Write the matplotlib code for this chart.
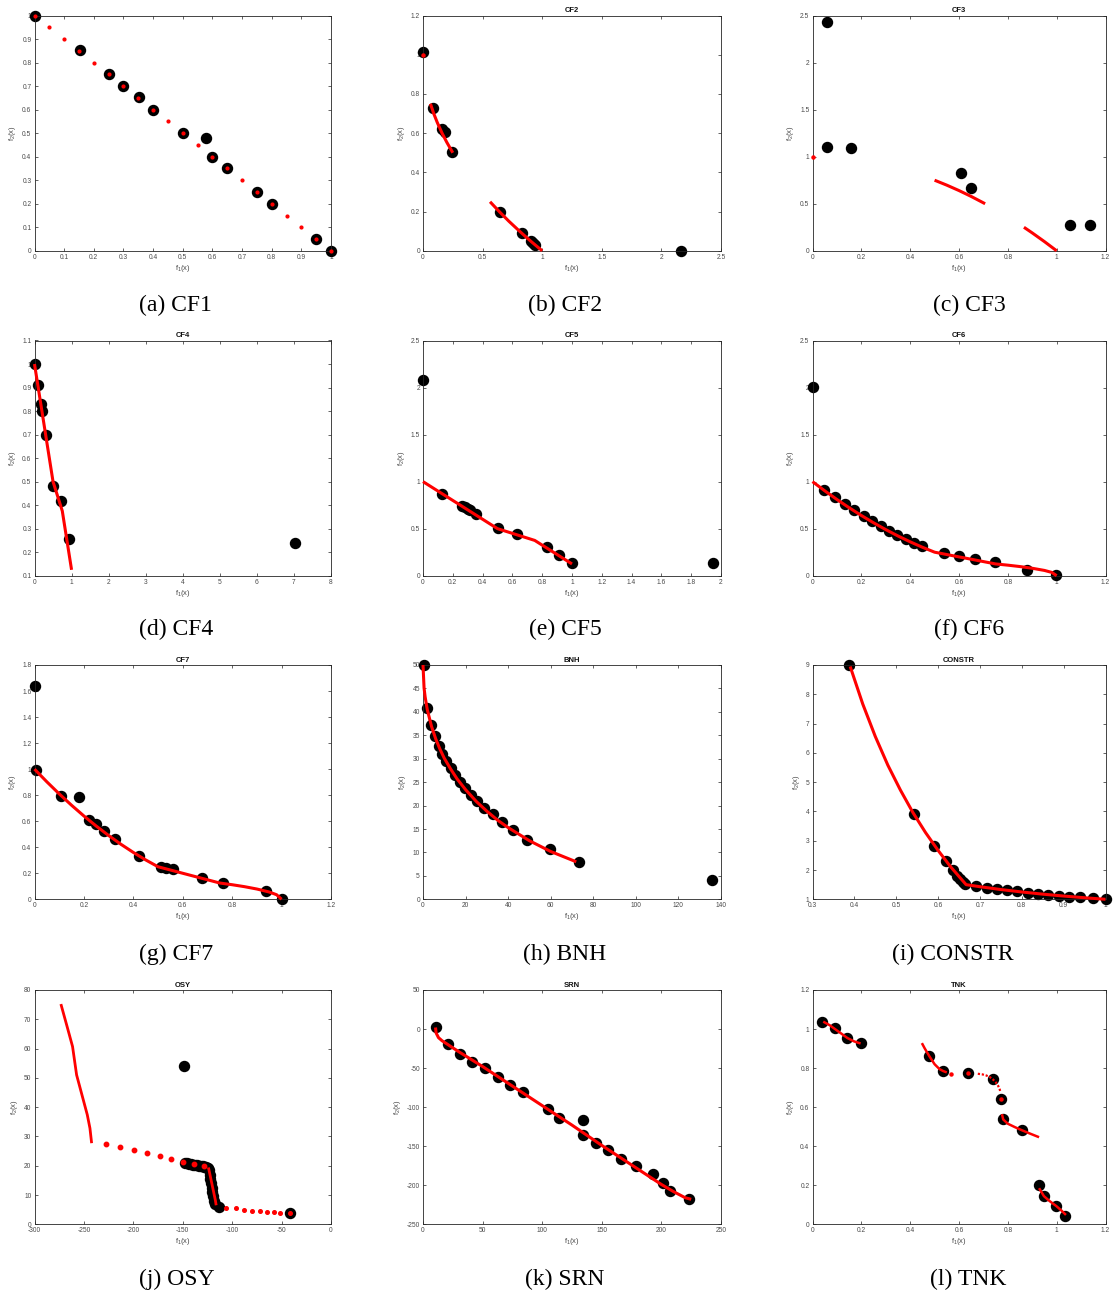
import numpy as np
import matplotlib
matplotlib.use('Agg')
import matplotlib.pyplot as plt
from matplotlib.ticker import FuncFormatter, FixedLocator

plt.rcParams['font.family'] = ['Liberation Sans', 'DejaVu Sans']
plt.rcParams['mathtext.fontset'] = 'custom'
plt.rcParams['mathtext.rm'] = 'Liberation Sans'

# ---------------- DATA ----------------
# CF1
cf1_front_f1 = [0, 0.05, 0.1, 0.15, 0.2, 0.25, 0.3, 0.35, 0.4, 0.45, 0.5, 0.55, 0.6, 0.65, 0.7, 0.75, 0.8, 0.85, 0.9, 0.95, 1.0]
cf1_front_f2 = [1, 0.95, 0.9, 0.85, 0.8, 0.75, 0.7, 0.65, 0.6, 0.55, 0.5, 0.45, 0.4, 0.35, 0.3, 0.25, 0.2, 0.15, 0.1, 0.05, 0]
cf1_sol_f1 = [0, 0.154, 0.25, 0.3, 0.352, 0.4, 0.5, 0.58, 0.6, 0.65, 0.75, 0.8, 0.95, 1.0]
cf1_sol_f2 = [1, 0.852, 0.75, 0.701, 0.652, 0.6, 0.5, 0.479, 0.4, 0.35, 0.25, 0.2, 0.05, 0]

# CF2
cf2_front_a_f1 = [0.0625, 0.09, 0.12, 0.16, 0.2, 0.25]
cf2_front_a_f2 = [0.75, 0.70, 0.654, 0.6, 0.553, 0.5]
cf2_front_b_f1 = [0.5625, 0.64, 0.72, 0.81, 0.9, 1.0]
cf2_front_b_f2 = [0.25, 0.2, 0.151, 0.1, 0.051, 0.0]
cf2_front_pt = [0, 1]
cf2_sol_f1 = [0.004, 0.084, 0.159, 0.182, 0.246, 0.649, 0.833, 0.906, 0.922, 0.938, 2.167]
cf2_sol_f2 = [1.015, 0.73, 0.62, 0.604, 0.506, 0.197, 0.09, 0.051, 0.042, 0.032, 0.0]

# CF3
cf3_front_a_f1 = [0.5, 0.55, 0.6, 0.65, 0.707]
cf3_front_a_f2 = [0.75, 0.6975, 0.64, 0.5775, 0.5]
cf3_front_b_f1 = [0.866, 0.9, 0.95, 1.0]
cf3_front_b_f2 = [0.25, 0.19, 0.0975, 0.0]
cf3_front_pt = [0, 1]
cf3_sol_f1 = [0.061, 0.061, 0.158, 0.607, 0.648, 1.056, 1.135]
cf3_sol_f2 = [2.432, 1.10, 1.09, 0.83, 0.662, 0.27, 0.27]

# CF4
cf4_front_f1 = [0, 0.5, 0.75, 1.0]
cf4_front_f2 = [1, 0.5, 0.375, 0.125]
cf4_sol_f1 = [0, 0.099, 0.171, 0.198, 0.306, 0.512, 0.71, 0.944, 7.02]
cf4_sol_f2 = [1.0, 0.911, 0.83, 0.799, 0.699, 0.48, 0.419, 0.256, 0.239]

# CF5
cf5_front_f1 = [0, 0.5, 0.75, 1.0]
cf5_front_f2 = [1, 0.5, 0.375, 0.125]
cf5_sol_f1 = [0, 0.13, 0.265, 0.283, 0.30, 0.317, 0.353, 0.501, 0.631, 0.834, 0.915, 0.998, 1.946]
cf5_sol_f2 = [2.078, 0.872, 0.742, 0.728, 0.713, 0.70, 0.656, 0.51, 0.447, 0.30, 0.223, 0.138, 0.135]

# CF6
cf6_front_f1 = [0, 0.05, 0.1, 0.15, 0.2, 0.25, 0.3, 0.35, 0.4, 0.45, 0.5, 0.55, 0.6, 0.65, 0.7, 0.75, 0.8, 0.85, 0.9, 0.95, 0.98, 1.0]
cf6_front_f2 = [1, 0.9025, 0.81, 0.7225, 0.64, 0.5625, 0.49, 0.4225, 0.36, 0.3025, 0.25, 0.225, 0.2, 0.175, 0.15, 0.125, 0.112, 0.097, 0.079, 0.056, 0.035, 0.0]
cf6_sol_f1 = [0, 0.046, 0.092, 0.133, 0.172, 0.209, 0.245, 0.279, 0.312, 0.347, 0.381, 0.415, 0.45, 0.537, 0.598, 0.667, 0.747, 0.877, 0.998]
cf6_sol_f2 = [2.01, 0.915, 0.833, 0.759, 0.695, 0.631, 0.578, 0.525, 0.479, 0.429, 0.39, 0.348, 0.312, 0.238, 0.209, 0.174, 0.142, 0.064, 0.011]

# CF7
cf7_front_f1 = [0, 0.05, 0.1, 0.15, 0.2, 0.25, 0.3, 0.35, 0.4, 0.45, 0.5, 0.55, 0.6, 0.65, 0.7, 0.75, 0.8, 0.85, 0.9, 0.95, 0.98, 1.0]
cf7_front_f2 = [1, 0.9025, 0.81, 0.7225, 0.64, 0.5625, 0.49, 0.4225, 0.36, 0.3025, 0.25, 0.225, 0.2, 0.175, 0.15, 0.125, 0.112, 0.097, 0.079, 0.056, 0.035, 0.0]
cf7_sol_f1 = [0.003, 0.007, 0.109, 0.181, 0.22, 0.247, 0.282, 0.325, 0.422, 0.511, 0.534, 0.562, 0.677, 0.763, 0.937, 1.003]
cf7_sol_f2 = [1.638, 0.991, 0.796, 0.789, 0.607, 0.576, 0.522, 0.461, 0.335, 0.248, 0.238, 0.233, 0.164, 0.123, 0.064, 0.005]

# BNH
bnh_front_f1 = [0, 0.5, 1, 2, 4, 6, 8, 10, 13, 16, 20, 25, 30, 35, 40, 50, 60, 72]
bnh_front_f2 = [50, 45.1, 43.2, 40.5, 36.9, 34.2, 32.0, 30.1, 27.8, 25.7, 23.4, 20.9, 18.8, 16.9, 15.3, 12.5, 10.2, 8.0]
bnh_sol_f1 = [0.3, 2.0, 3.9, 5.5, 7.4, 9.1, 11.0, 13.0, 15.2, 17.4, 19.9, 22.4, 25.3, 28.7, 33.0, 37.0, 42.4, 49.0, 59.8, 73.1, 135.8]
bnh_sol_f2 = [50, 40.75, 37.3, 34.85, 32.8, 31.0, 29.5, 27.95, 26.46, 25.1, 23.7, 22.3, 20.9, 19.5, 18.1, 16.4, 14.7, 12.7, 10.67, 7.97, 4.1]

# CONSTR
constr_front_f1 = [0.39, 0.42, 0.45, 0.48, 0.51, 0.54, 0.57, 0.6, 0.63, 0.667, 0.7, 0.75, 0.8, 0.85, 0.9, 0.95, 1.0]
constr_front_f2 = [8.95, 7.67, 6.56, 5.58, 4.73, 3.96, 3.28, 2.67, 2.11, 1.5, 1.43, 1.333, 1.25, 1.176, 1.111, 1.053, 1.0]
constr_sol_f1 = [0.388, 0.542, 0.591, 0.619, 0.635, 0.646, 0.653, 0.659, 0.665, 0.69, 0.716, 0.74, 0.765, 0.789, 0.815, 0.838, 0.862, 0.888, 0.913, 0.94, 0.97, 1.0]
constr_sol_f2 = [9.0, 3.91, 2.83, 2.32, 2.0, 1.80, 1.68, 1.60, 1.52, 1.449, 1.397, 1.351, 1.307, 1.267, 1.227, 1.193, 1.16, 1.126, 1.095, 1.064, 1.031, 1.0]

# OSY
osy_front_a_f1 = [-273.3, -267, -261.5, -257.4, -252, -246.6, -243.9, -242.2]
osy_front_a_f2 = [75.2, 67.5, 60.7, 51.0, 44.2, 37.4, 32.8, 27.7]
osy_front_b_f1 = [-227.7, -213.2, -199.7, -186.1, -173.3, -161.5, -149.7, -138.2, -128]
osy_front_b_f2 = [27.4, 26.4, 25.3, 24.3, 23.4, 22.4, 21.4, 20.6, 19.9]
osy_front_c_f1 = [-124, -123, -122, -121, -120, -119, -118, -117, -116.2]
osy_front_c_f2 = [19.4, 17.8, 16.2, 14.6, 13.0, 11.4, 9.8, 8.2, 6.5]
osy_front_d_f1 = [-106, -96.6, -88.2, -80, -72.3, -64.9, -58.1, -51.4, -41.9]
osy_front_d_f2 = [5.7, 5.4, 5.0, 4.7, 4.4, 4.2, 4.1, 4.0, 4.0]
osy_sol_f1 = [-148.6, -148, -146, -144, -142, -140, -138, -136, -134, -132, -130, -128, -126, -124.2,
              -123.5, -122.8, -122.1, -121.4, -120.7, -120, -119.3, -118.6, -117.8, -113, -41.9]
osy_sol_f2 = [54.0, 21.1, 20.9, 20.7, 20.5, 20.4, 20.2, 20.1, 20.0, 19.9, 19.8, 19.7, 19.5, 19.2,
              18.5, 17.0, 15.5, 14.0, 12.5, 11.0, 9.5, 8.0, 6.8, 5.8, 4.0]

# SRN
srn_front_f1 = [10.5, 11, 13, 16, 20, 25, 30, 50, 75, 100, 125, 150, 175, 200, 210, 215, 220, 225]
srn_front_f2 = [2, -5, -11, -15, -19, -24, -29, -48, -73, -98, -123, -149, -174, -199, -208, -212, -216, -218]
srn_sol_f1 = [10.6, 21.0, 31.1, 41.2, 52.4, 62.8, 72.6, 84.1, 104.8, 114.1, 134.2, 134.2, 145.2, 155.5, 165.9, 178.5, 193.1, 201.5, 206.8, 222.8]
srn_sol_f2 = [2.2, -19.6, -31.5, -41.8, -49.4, -61.0, -72.1, -81.0, -102.8, -114.3, -116.9, -135.7, -145.5, -155.3, -166.4, -175.8, -185.6, -196.7, -207.4, -218.0]

# TNK
tnk_front_a_f1 = [0.044, 0.07, 0.092, 0.12, 0.143, 0.17, 0.197]
tnk_front_a_f2 = [1.038, 1.02, 1.0, 0.975, 0.954, 0.937, 0.926]
tnk_front_b_f1 = [0.448, 0.46, 0.479, 0.5, 0.52, 0.535, 0.55]
tnk_front_b_f2 = [0.928, 0.9, 0.86, 0.82, 0.795, 0.785, 0.778]
tnk_front_c_f1 = [0.677, 0.695, 0.71, 0.725, 0.739, 0.75, 0.76, 0.767, 0.769]
tnk_front_c_f2 = [0.771, 0.768, 0.763, 0.755, 0.742, 0.728, 0.71, 0.69, 0.68]
tnk_front_d_f1 = [0.776, 0.781, 0.8, 0.83, 0.857, 0.89, 0.928]
tnk_front_d_f2 = [0.564, 0.537, 0.515, 0.497, 0.482, 0.465, 0.446]
tnk_front_e_f1 = [0.928, 0.948, 0.97, 0.998, 1.02, 1.038]
tnk_front_e_f2 = [0.185, 0.144, 0.12, 0.094, 0.07, 0.048]
tnk_front_pts_f1 = [0.566, 0.638, 0.77]
tnk_front_pts_f2 = [0.771, 0.773, 0.641]
tnk_sol_f1 = [0.04, 0.092, 0.143, 0.199, 0.479, 0.535, 0.638, 0.739, 0.77, 0.781, 0.857, 0.928, 0.948, 0.998, 1.036]
tnk_sol_f2 = [1.038, 1.003, 0.956, 0.930, 0.860, 0.785, 0.773, 0.742, 0.641, 0.537, 0.482, 0.200, 0.144, 0.094, 0.043]

titles = ['', 'CF2', 'CF3', 'CF4', 'CF5', 'CF6', 'CF7', 'BNH', 'CONSTR', 'OSY', 'SRN', 'TNK']
captions = ['(a) CF1', '(b) CF2', '(c) CF3', '(d) CF4', '(e) CF5', '(f) CF6',
            '(g) CF7', '(h) BNH', '(i) CONSTR', '(j) OSY', '(k) SRN', '(l) TNK']

# ---------------- LAYOUT ----------------
W, H = 1113, 1293
fig = plt.figure(figsize=(W / 100, H / 100), dpi=100)
fig.patch.set_facecolor('white')

COL_L = [34.5, 423.0, 812.5]
COL_W = [296.5, 298.0, 293.0]
ROW_T = [15.5, 340.5, 665.0, 990.0]
ROW_H = [235.3, 235.2, 234.3, 234.3]
CAP_Y = [305, 629, 954, 1279]
CAP_X = [[175, 565, 969], [176, 565, 969], [176, 565, 953], [177, 565, 968]]

SPINE = '#262626'
LABC = '#4a4a4a'
RED = '#ff0000'
fmt = FuncFormatter(lambda v, p: '%g' % round(v, 6))


def make_ax(i, xlim, ylim, xt, yt):
    r, c = divmod(i, 3)
    l, w, t, h = COL_L[c], COL_W[c], ROW_T[r], ROW_H[r]
    ax = fig.add_axes([l / W, 1 - (t + h) / H, w / W, h / H])
    ax.set_xlim(xlim)
    ax.set_ylim(ylim)
    ax.xaxis.set_major_locator(FixedLocator(xt))
    ax.yaxis.set_major_locator(FixedLocator(yt))
    ax.xaxis.set_major_formatter(fmt)
    ax.yaxis.set_major_formatter(fmt)
    ax.tick_params(direction='in', length=2.2, width=0.5, top=True, right=True,
                   labelsize=4.8, color=SPINE, labelcolor=LABC, pad=2.2)
    for s in ax.spines.values():
        s.set_color(SPINE)
        s.set_linewidth(0.6)
    ax.set_xlabel(r'$\mathregular{f_1(x)}$', fontsize=5.5, color=LABC, labelpad=1.5)
    ax.set_ylabel(r'$\mathregular{f_2(x)}$', fontsize=5.5, color=LABC, labelpad=3.0)
    if titles[i]:
        ax.set_title(titles[i], fontsize=5.5, fontweight='bold', pad=2.5, color='#111111')
    fig.text(CAP_X[r][c] / W, 1 - CAP_Y[r] / H, captions[i], ha='center', va='center',
             fontsize=17, family='Liberation Serif', color='black')
    return ax


MS = 7.2
LW = 2.2


def sol(ax, x, y):
    ax.plot(x, y, 'o', color='black', ms=MS, zorder=2, clip_on=False)


def front(ax, x, y, **kw):
    d = dict(color=RED, lw=LW, zorder=3, solid_capstyle='butt', clip_on=False)
    d.update(kw)
    ax.plot(x, y, **d)


def dots(ax, x, y, ms=2.2, marker='o'):
    ax.plot(x, y, marker, color=RED, ms=ms, mec=RED, zorder=4, clip_on=False, ls='none')


def ar(a, b, s):
    return list(np.round(np.arange(a, b + s / 2, s), 6))


# (a) CF1
ax = make_ax(0, (0, 1), (0, 1), ar(0, 1, 0.1), ar(0, 1, 0.1))
sol(ax, cf1_sol_f1, cf1_sol_f2)
dots(ax, cf1_front_f1, cf1_front_f2, ms=2.0)

# (b) CF2
ax = make_ax(1, (0, 2.5), (0, 1.2), ar(0, 2.5, 0.5), ar(0, 1.2, 0.2))
sol(ax, cf2_sol_f1, cf2_sol_f2)
front(ax, cf2_front_a_f1, cf2_front_a_f2)
front(ax, cf2_front_b_f1, cf2_front_b_f2)
dots(ax, [cf2_front_pt[0]], [cf2_front_pt[1]])

# (c) CF3
ax = make_ax(2, (0, 1.2), (0, 2.5), ar(0, 1.2, 0.2), ar(0, 2.5, 0.5))
sol(ax, cf3_sol_f1, cf3_sol_f2)
front(ax, cf3_front_a_f1, cf3_front_a_f2)
front(ax, cf3_front_b_f1, cf3_front_b_f2)
dots(ax, [cf3_front_pt[0]], [cf3_front_pt[1]])

# (d) CF4
ax = make_ax(3, (0, 8), (0.1, 1.1), ar(0, 8, 1), ar(0.1, 1.1, 0.1))
sol(ax, cf4_sol_f1, cf4_sol_f2)
front(ax, cf4_front_f1, cf4_front_f2, solid_joinstyle='round')

# (e) CF5
ax = make_ax(4, (0, 2), (0, 2.5), ar(0, 2, 0.2), ar(0, 2.5, 0.5))
sol(ax, cf5_sol_f1, cf5_sol_f2)
front(ax, cf5_front_f1, cf5_front_f2, solid_joinstyle='round')

# (f) CF6
ax = make_ax(5, (0, 1.2), (0, 2.5), ar(0, 1.2, 0.2), ar(0, 2.5, 0.5))
sol(ax, cf6_sol_f1, cf6_sol_f2)
front(ax, cf6_front_f1, cf6_front_f2, solid_joinstyle='round')

# (g) CF7
ax = make_ax(6, (0, 1.2), (0, 1.8), ar(0, 1.2, 0.2), ar(0, 1.8, 0.2))
sol(ax, cf7_sol_f1, cf7_sol_f2)
front(ax, cf7_front_f1, cf7_front_f2, solid_joinstyle='round')

# (h) BNH
ax = make_ax(7, (0, 140), (0, 50), ar(0, 140, 20), ar(0, 50, 5))
sol(ax, bnh_sol_f1, bnh_sol_f2)
front(ax, bnh_front_f1, bnh_front_f2, solid_joinstyle='round')

# (i) CONSTR
ax = make_ax(8, (0.3, 1), (1, 9), ar(0.3, 1, 0.1), ar(1, 9, 1))
sol(ax, constr_sol_f1, constr_sol_f2)
front(ax, constr_front_f1, constr_front_f2, solid_joinstyle='round')

# (j) OSY
ax = make_ax(9, (-300, 0), (0, 80), ar(-300, 0, 50), ar(0, 80, 10))
sol(ax, osy_sol_f1, osy_sol_f2)
front(ax, osy_front_a_f1, osy_front_a_f2, lw=2.0)
front(ax, osy_front_c_f1, osy_front_c_f2, lw=2.0)
dots(ax, osy_front_b_f1, osy_front_b_f2, ms=3.2, marker='o')
dots(ax, osy_front_d_f1, osy_front_d_f2, ms=2.6, marker='o')

# (k) SRN
ax = make_ax(10, (0, 250), (-250, 50), ar(0, 250, 50), ar(-250, 50, 50))
sol(ax, srn_sol_f1, srn_sol_f2)
front(ax, srn_front_f1, srn_front_f2, solid_joinstyle='round')

# (l) TNK
ax = make_ax(11, (0, 1.2), (0, 1.2), ar(0, 1.2, 0.2), ar(0, 1.2, 0.2))
sol(ax, tnk_sol_f1, tnk_sol_f2)
front(ax, tnk_front_a_f1, tnk_front_a_f2, lw=1.8)
front(ax, tnk_front_b_f1, tnk_front_b_f2, lw=1.8)
front(ax, tnk_front_c_f1, tnk_front_c_f2, lw=1.6, ls=(0, (1, 0.8)))
front(ax, tnk_front_d_f1, tnk_front_d_f2, lw=1.8)
front(ax, tnk_front_e_f1, tnk_front_e_f2, lw=1.8)
dots(ax, tnk_front_pts_f1, tnk_front_pts_f2, ms=2.2)

fig.savefig('out.png', dpi=100)
